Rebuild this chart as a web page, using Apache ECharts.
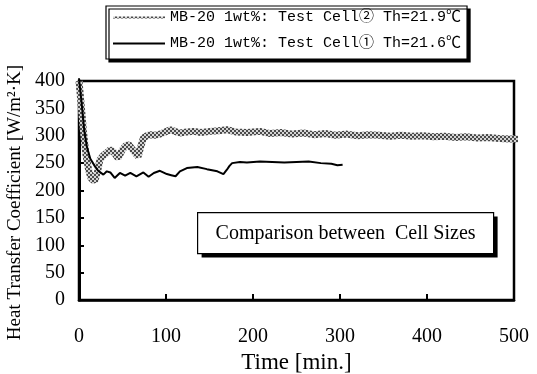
<!DOCTYPE html>
<html>
<head>
<meta charset="utf-8">
<script src="https://cdn.jsdelivr.net/npm/echarts@6/dist/echarts.min.js"></script>
<style>
  html, body { margin: 0; padding: 0; background: #fff; }
  #chart { width: 537px; height: 374px; }
</style>
</head>
<body>
<div id="chart"></div>
<script>
// Test Cell 2 (grey band)
const grayTime = [0, 2, 5, 8, 11, 14, 18, 21, 24, 28, 32, 36, 40, 45, 49, 53, 57, 61, 65, 68,
  71, 74, 78, 82, 88, 93, 99, 105, 110, 116, 124, 132, 140, 151, 160, 170, 180, 193, 208, 220,
  232, 245, 258, 270, 283, 295, 308, 320, 333, 345, 358, 370, 383, 395, 408, 420, 433, 445, 458, 470,
  483, 495, 505]
const grayValue = [400, 365, 310, 265, 238, 222, 217, 232, 256, 264, 269, 275, 270, 259, 272, 281, 284, 276, 268, 262,
  280, 296, 300, 302, 301, 303, 307, 311, 308, 305, 307, 308, 306, 308, 309, 311, 307, 306, 308, 304,
  306, 303, 305, 302, 304, 301, 303, 300, 302, 301, 299, 301, 299, 300, 298, 299, 297, 298, 296, 297,
  295, 294, 294]

// Test Cell 1 (black line)
const blackTime = [0, 3, 6, 9, 13, 18, 22, 28, 32, 36, 41, 47, 53, 59, 66, 74, 80, 86, 93, 101,
  106, 111, 116, 124, 136, 147, 159, 166, 170, 173, 176, 185, 193, 208, 222, 236, 250, 264, 278, 290,
  297, 303]
const blackValue = [405, 360, 310, 280, 258, 245, 236, 229, 235, 233, 223, 232, 227, 232, 226, 233, 225, 232, 236, 230,
  228, 226, 235, 241, 243, 239, 235, 230, 238, 245, 250, 252, 251, 253, 252, 251, 252, 253, 250, 249,
  246, 247]

const grayName = 'MB-20 1wt%: Test Cell② Th=21.9℃'
const blackName = 'MB-20 1wt%: Test Cell① Th=21.6℃'
const note = 'Comparison between  Cell Sizes'

const zip = (xs, ys) => xs.map((x, i) => [x, ys[i]])

// small checker texture for the grey band
const tex = document.createElement('canvas')
tex.width = 4; tex.height = 4
const tc = tex.getContext('2d')
tc.fillStyle = '#d4d4d4'; tc.fillRect(0, 0, 4, 4)
tc.fillStyle = '#4a4a4a'
tc.fillRect(0, 0, 2, 2); tc.fillRect(2, 2, 2, 2)

const serif = '"Liberation Serif", "DejaVu Serif", serif'
const mono = '"Liberation Mono", "DejaVu Sans Mono", "Noto Sans CJK JP", monospace'

const chart = echarts.init(document.getElementById('chart'))
chart.setOption({
  animation: false,
  grid: {
    left: 79, right: 23, top: 81, bottom: 74,
    outerBoundsMode: 'none', containLabel: false,
    show: true, borderColor: '#000', borderWidth: 2.5
  },
  legend: {
    orient: 'vertical',
    left: 106, top: 6,
    padding: [4, 6, 8, 6],
    itemWidth: 52, itemHeight: 15, itemGap: 11,
    backgroundColor: '#fff',
    borderColor: '#000', borderWidth: 1.2,
    shadowColor: '#000', shadowBlur: 0, shadowOffsetX: 3, shadowOffsetY: 3,
    itemStyle: { opacity: 0 },
    textStyle: { fontFamily: mono, fontSize: 15, color: '#000' },
    data: [grayName, blackName]
  },
  xAxis: {
    type: 'value', min: 0, max: 500, interval: 100,
    name: 'Time [min.]', nameLocation: 'middle', nameGap: 47,
    nameTextStyle: { fontFamily: serif, fontSize: 23, color: '#000' },
    axisLine: { lineStyle: { color: '#000', width: 2.5 } },
    axisTick: { inside: true, length: 6, lineStyle: { color: '#000', width: 2 } },
    axisLabel: { margin: 27, fontFamily: serif, fontSize: 20, color: '#000' },
    splitLine: { show: false }
  },
  yAxis: {
    type: 'value', min: 0, max: 400, interval: 50,
    name: 'Heat Transfer Coefficient [W/m²·K]', nameLocation: 'middle', nameGap: 52,
    nameTextStyle: { fontFamily: serif, fontSize: 19, color: '#000', padding: [0, 24, 0, 0] },
    axisLine: { lineStyle: { color: '#000', width: 3 } },
    axisTick: { inside: true, length: 5, lineStyle: { color: '#000', width: 2 } },
    axisLabel: { margin: 14, fontFamily: serif, fontSize: 20, color: '#000' },
    splitLine: { show: false }
  },
  graphic: [{
    type: 'group', left: 197, top: 212,
    children: [
      { type: 'rect', shape: { x: 4, y: 4, width: 296, height: 41 }, style: { fill: '#000' } },
      { type: 'rect', shape: { x: 0, y: 0, width: 296, height: 41 }, style: { fill: '#fff', stroke: '#000', lineWidth: 1.2 } },
      { type: 'text', x: 148, y: 21, style: { text: note, fill: '#000', font: '20px ' + serif, align: 'center', verticalAlign: 'middle' } }
    ]
  }],
  series: [
    {
      name: grayName, type: 'line', showSymbol: false, symbol: 'none', clip: false,
      lineStyle: { width: 7, color: { image: tex, repeat: 'repeat' } },
      itemStyle: { color: '#999' },
      data: zip(grayTime, grayValue)
    },
    {
      name: blackName, type: 'line', showSymbol: false, symbol: 'none', clip: false,
      lineStyle: { width: 2, color: '#000' },
      itemStyle: { color: '#000' },
      data: zip(blackTime, blackValue)
    }
  ]
})
</script>
</body>
</html>
